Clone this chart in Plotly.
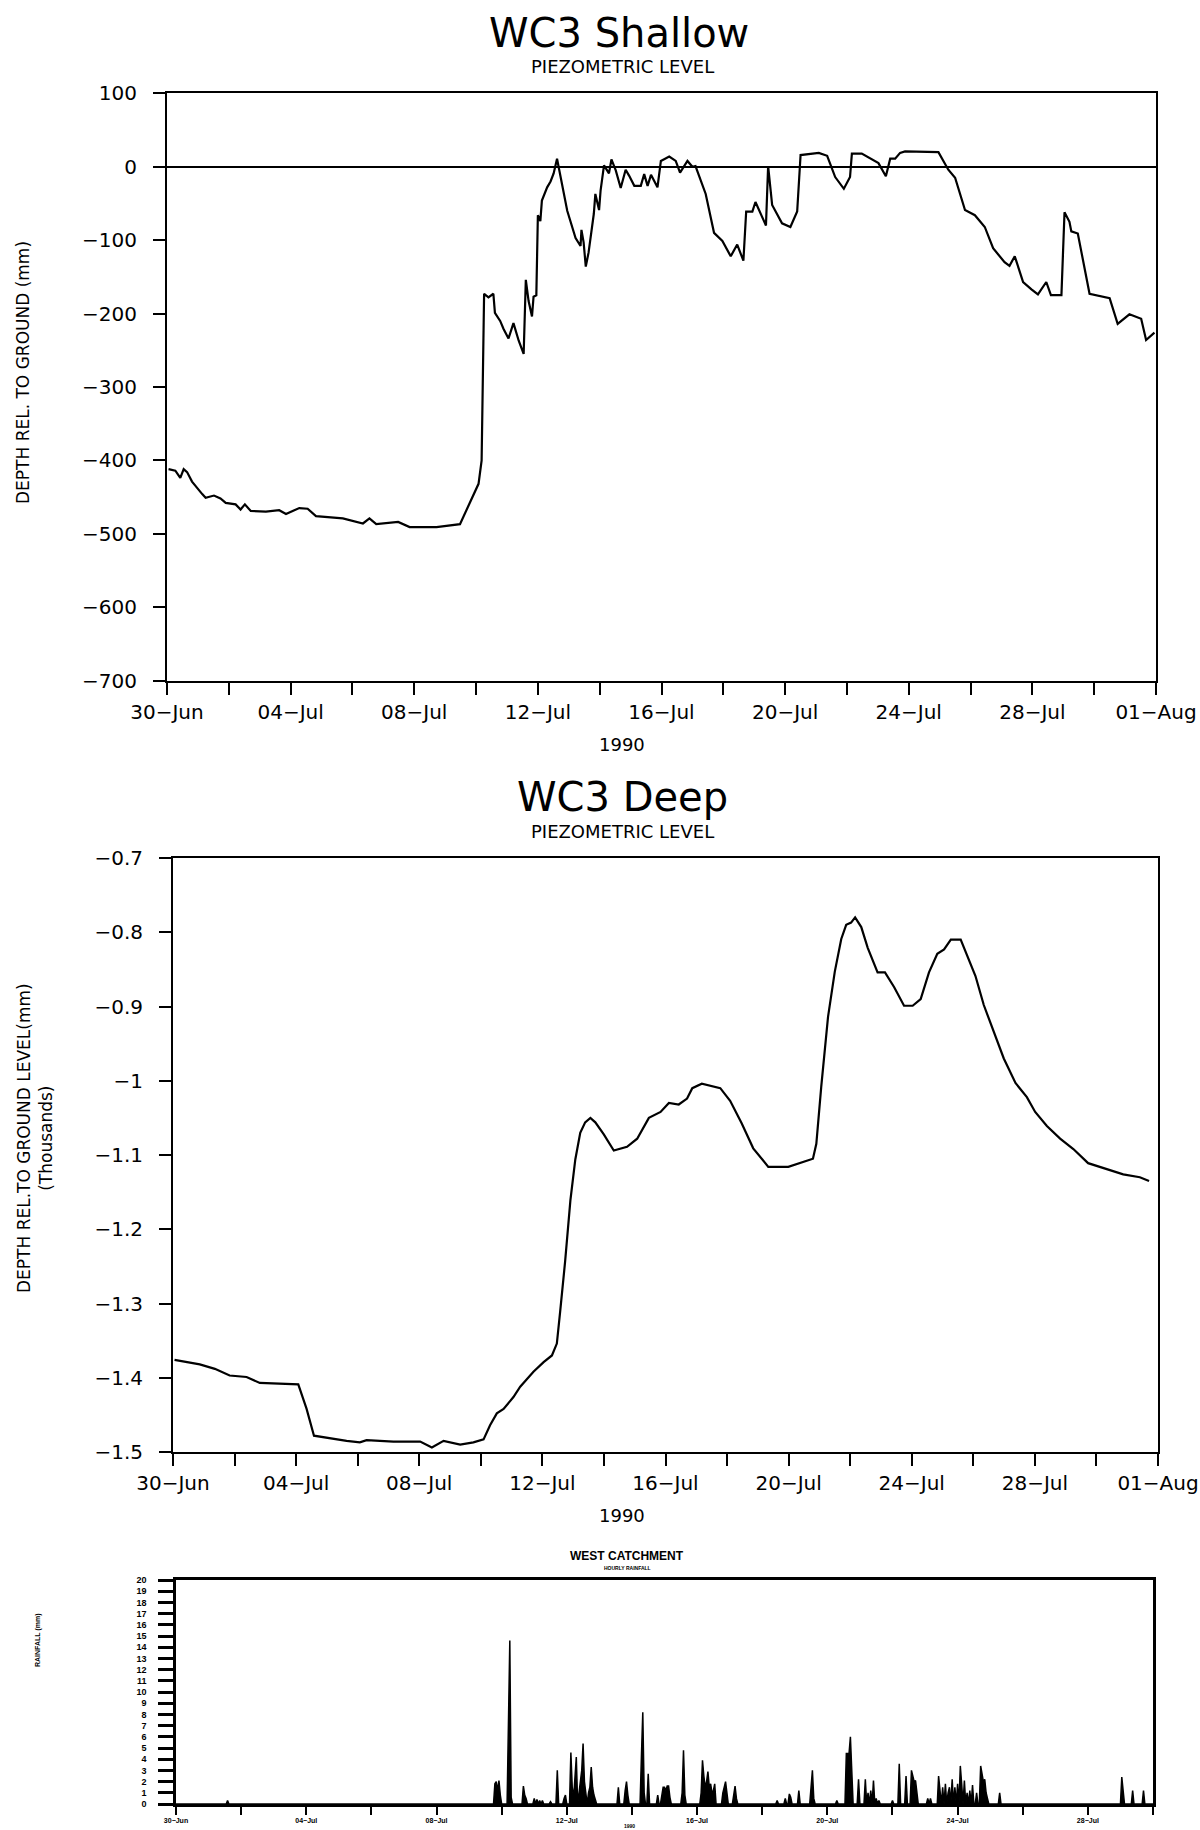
import pandas as pd
import plotly.graph_objects as go

# ---------------- data ----------------
START = pd.Timestamp("1990-06-30")

# WC3 Shallow piezometric level (days since 30-Jun-1990, mm rel. to ground)
shallow_day = [0.05, 0.27, 0.43, 0.54, 0.65, 0.81, 1.14, 1.25, 1.52, 1.73, 1.90, 2.22, 2.38, 2.52, 2.71,
               3.20, 3.63, 3.85, 4.28, 4.55, 4.82, 5.69, 6.34, 6.55, 6.77, 7.48, 7.85, 8.72, 9.48, 10.08,
               10.18, 10.22, 10.26, 10.40, 10.56, 10.61, 10.78, 10.89, 11.05, 11.21, 11.38, 11.54, 11.61,
               11.70, 11.81, 11.86, 11.95, 12.00, 12.08, 12.13, 12.30, 12.41, 12.51, 12.62, 12.73, 12.95,
               13.22, 13.38, 13.41, 13.48, 13.55, 13.64, 13.81, 13.86, 13.98, 14.03, 14.14, 14.30, 14.38,
               14.52, 14.68, 14.84, 14.95, 15.12, 15.33, 15.44, 15.55, 15.66, 15.87, 15.98, 16.25, 16.46,
               16.60, 16.84, 17.00, 17.10, 17.43, 17.70, 17.97, 18.24, 18.45, 18.65, 18.74, 18.94, 19.04,
               19.31, 19.38, 19.45, 19.58, 19.90, 20.17, 20.39, 20.50, 21.09, 21.36, 21.62, 21.90, 22.10,
               22.16, 22.48, 22.80, 23.02, 23.26, 23.40, 23.56, 23.72, 23.88, 24.96, 25.28, 25.50, 25.82,
               26.14, 26.46, 26.73, 27.10, 27.26, 27.43, 27.70, 27.97, 28.18, 28.45, 28.60, 28.94, 29.04,
               29.20, 29.26, 29.47, 29.85, 30.50, 30.76, 31.14, 31.52, 31.68, 31.95]
shallow_mm = [-412, -414, -424, -412, -416, -429, -446, -451, -448, -452, -458, -460, -467, -460, -469,
              -470, -468, -473, -465, -466, -476, -479, -486, -479, -487, -484, -491, -491, -487, -432,
              -400, -290, -173, -178, -173, -199, -210, -221, -234, -213, -237, -255, -154,
              -183, -204, -177, -175, -66, -74, -46, -28, -20, -9, 11, -14, -60,
              -97, -108, -86, -103, -136, -117, -64, -37, -59, -32, 2, -9, 10,
              -5, -29, -4, -12, -26, -26, -10, -26, -11, -28, 8, 14, 8,
              -8, 8, 0, 1, -37, -90, -101, -122, -106, -128, -61, -61, -48,
              -72, -80, 1, -52, -77, -82, -61, 16, 19, 15, -14, -30, -14,
              18, 18, 10, 5, -13, 11, 11, 19, 21, 20, -4, -15, -59,
              -66, -82, -111, -130, -135, -122, -157, -167, -174, -157, -175, -175, -62,
              -75, -88, -91, -173, -179, -214, -201, -207, -236, -226]

# WC3 Deep piezometric level (days since 30-Jun-1990, thousands of mm)
deep_day = [0.05, 0.87, 1.36, 1.84, 2.39, 2.82, 4.07, 4.34, 4.58, 4.99, 5.64, 6.07, 6.29, 7.16, 8.03,
            8.41, 8.79, 9.33, 9.76, 10.09, 10.30, 10.52, 10.74, 11.06, 11.28, 11.71, 12.04, 12.31, 12.47,
            12.58, 12.74, 12.91, 13.07, 13.23, 13.39, 13.56, 13.72, 13.99, 14.32, 14.75, 15.08, 15.46,
            15.84, 16.11, 16.43, 16.70, 16.87, 17.18, 17.78, 18.10, 18.47, 18.85, 19.34, 19.99, 20.42,
            20.79, 20.90, 21.06, 21.28, 21.50, 21.71, 21.87, 22.03, 22.16, 22.36, 22.57, 22.89, 23.13,
            23.43, 23.75, 24.03, 24.29, 24.56, 24.83, 25.05, 25.27, 25.59, 25.80, 26.07, 26.34, 26.67,
            26.99, 27.37, 27.74, 28.01, 28.39, 28.82, 29.25, 29.73, 30.33, 30.87, 31.41, 31.71]
deep_k = [-1.376, -1.382, -1.388, -1.397, -1.399, -1.407, -1.409, -1.442, -1.478, -1.481, -1.485, -1.487,
          -1.484, -1.486, -1.486, -1.494, -1.485, -1.490, -1.487, -1.483, -1.464, -1.448, -1.442, -1.426,
          -1.412, -1.392, -1.379, -1.370, -1.354, -1.310, -1.243, -1.161, -1.106, -1.070, -1.056, -1.050,
          -1.056, -1.072, -1.094, -1.089, -1.078, -1.050, -1.042, -1.030, -1.032, -1.024, -1.010, -1.004,
          -1.010, -1.027, -1.057, -1.091, -1.116, -1.116, -1.110, -1.105, -1.085, -1.008, -0.914, -0.853,
          -0.809, -0.790, -0.787, -0.780, -0.793, -0.821, -0.854, -0.854, -0.874, -0.899, -0.899, -0.890,
          -0.854, -0.829, -0.823, -0.810, -0.810, -0.832, -0.859, -0.898, -0.934, -0.970, -1.003, -1.022,
          -1.042, -1.061, -1.078, -1.092, -1.111, -1.119, -1.126, -1.130, -1.135]

# West catchment hourly rainfall: hour since 30-Jun 00:00 and mm (hours not listed had no rain)
rain_hour = [38, 235, 236, 237, 238, 239, 245, 246, 247, 256, 257, 258, 264, 266, 268, 270, 276, 281,
             286, 287, 291, 292, 293, 294, 295, 297, 298, 299, 300, 301, 302, 304, 305, 306, 307, 308, 309,
             326, 331, 332, 333, 343, 344, 345, 348, 355, 358, 359, 360, 361, 362, 363, 364, 373, 374, 375,
             387, 388, 389, 390, 391, 392, 393, 394, 395, 396, 397, 403, 404, 405, 406, 411, 412, 413,
             443, 449, 452, 453, 459, 468, 469, 470, 487, 494, 495, 496, 497, 498, 503, 508, 510, 512,
             514, 516, 518, 528, 533, 538, 542, 543, 544, 545, 546, 554, 556, 562, 563, 565, 567, 569,
             570, 572, 574, 576, 578, 579, 581, 583, 585, 587, 590, 593, 594, 595, 596, 597, 598, 607,
             697, 698, 705, 713]
rain_mm = [0.3, 1.8, 2.0, 1.2, 2.1, 0.8, 7.3, 14.6, 0.6, 1.6, 0.8, 0.5, 0.5, 0.4, 0.3, 0.3, 0.2, 3.0,
           0.5, 0.8, 4.6, 1.5, 0.5, 2.0, 4.2, 1.0, 2.5, 3.0, 5.4, 2.0, 1.0, 1.0, 1.5, 3.3, 1.5, 0.8, 0.3,
           1.5, 1.2, 2.0, 0.8, 4.3, 8.2, 1.0, 2.7, 0.8, 1.0, 1.5, 1.5, 1.2, 1.6, 1.6, 0.6, 1.0, 4.8, 0.8,
           1.0, 3.9, 2.5, 1.5, 2.0, 2.9, 1.5, 1.8, 1.0, 1.2, 1.8, 1.0, 1.5, 2.0, 1.0, 0.8, 1.6, 0.5,
           0.3, 0.5, 0.9, 0.6, 1.2, 1.5, 3.0, 0.5, 0.3, 4.5, 4.5, 4.5, 6.0, 2.0, 2.2, 2.2, 1.0, 1.2,
           2.1, 0.5, 0.3, 0.3, 3.6, 2.5, 3.0, 2.5, 2.0, 2.1, 0.8, 0.5, 0.5, 2.5, 1.5, 1.5, 1.8, 1.0,
           1.5, 2.2, 1.5, 1.8, 3.4, 1.8, 2.1, 1.0, 1.2, 1.7, 1.0, 3.4, 2.5, 2.0, 2.2, 1.0, 0.5, 1.0,
           2.4, 1.2, 1.2, 1.2]

# axis ticks
tick_dates = ["1990-06-30", "1990-07-02", "1990-07-04", "1990-07-06", "1990-07-08", "1990-07-10",
              "1990-07-12", "1990-07-14", "1990-07-16", "1990-07-18", "1990-07-20", "1990-07-22",
              "1990-07-24", "1990-07-26", "1990-07-28", "1990-07-30", "1990-08-01"]
tick_labels = ["30−Jun", "", "04−Jul", "", "08−Jul", "", "12−Jul", "", "16−Jul", "", "20−Jul", "",
               "24−Jul", "", "28−Jul", "", "01−Aug"]
shallow_yticks = [100, 0, -100, -200, -300, -400, -500, -600, -700]
shallow_ylabels = ["100", "0", "−100", "−200", "−300", "−400", "−500", "−600", "−700"]
deep_yticks = [-0.7, -0.8, -0.9, -1.0, -1.1, -1.2, -1.3, -1.4, -1.5]
deep_ylabels = ["−0.7", "−0.8", "−0.9", "−1", "−1.1", "−1.2", "−1.3", "−1.4", "−1.5"]
rain_yticks = list(range(0, 21))
rain_ylabels = [str(v) for v in rain_yticks]

# ---------------- build ----------------
def to_dates(days):
    return [START + pd.Timedelta(days=d) for d in days]

rain_map = dict(zip(rain_hour, rain_mm))
rain_hours_all = list(range(0, 30 * 24 + 1))
rain_x = [START + pd.Timedelta(hours=h) for h in rain_hours_all]
rain_y = [rain_map.get(h, 0.0) for h in rain_hours_all]

W, H = 1200, 1830
def px(x):
    return x / W
def py(y):
    return 1 - y / H

FONT = "DejaVu Sans"
fig = go.Figure()
fig.add_trace(go.Scatter(x=to_dates(shallow_day), y=shallow_mm, mode="lines",
                         line=dict(color="black", width=2.2), xaxis="x", yaxis="y", showlegend=False))
fig.add_trace(go.Scatter(x=to_dates(deep_day), y=deep_k, mode="lines",
                         line=dict(color="black", width=2.2), xaxis="x2", yaxis="y2", showlegend=False))
fig.add_trace(go.Scatter(x=rain_x, y=rain_y, mode="lines", fill="tozeroy", fillcolor="black",
                         line=dict(color="black", width=1.5), xaxis="x3", yaxis="y3", showlegend=False))

common_x = dict(type="date", showgrid=False, showline=True, linecolor="black", linewidth=2,
                mirror=True, ticks="outside", ticklen=12, tickwidth=2, tickcolor="black",
                zeroline=False, automargin=False)
common_y = dict(showgrid=False, showline=True, linecolor="black", linewidth=2, mirror=True,
                ticks="outside", ticklen=12, tickwidth=2, tickcolor="black", automargin=False,
                ticklabelstandoff=12)

fig.update_layout(
    width=W, height=H, margin=dict(l=0, r=0, t=0, b=0, autoexpand=False),
    paper_bgcolor="white", plot_bgcolor="white",
    font=dict(family=FONT, color="black"),
    xaxis=dict(**common_x, domain=[px(167), px(1156)], anchor="y",
               range=["1990-06-30", "1990-08-01"], tickvals=tick_dates, ticktext=tick_labels,
               tickfont=dict(size=20, family=FONT)),
    yaxis=dict(**common_y, domain=[py(680.5), py(93.4)], anchor="x", range=[-700, 100],
               tickvals=shallow_yticks, ticktext=shallow_ylabels, tickfont=dict(size=20, family=FONT),
               zeroline=True, zerolinecolor="black", zerolinewidth=2),
    xaxis2=dict(**common_x, domain=[px(173), px(1158)], anchor="y2",
                range=["1990-06-30", "1990-08-01"], tickvals=tick_dates, ticktext=tick_labels,
                tickfont=dict(size=20, family=FONT)),
    yaxis2=dict(**common_y, domain=[py(1452), py(858)], anchor="x2", range=[-1.5, -0.7],
                tickvals=deep_yticks, ticktext=deep_ylabels, tickfont=dict(size=20, family=FONT),
                zeroline=False),
    xaxis3=dict(type="date", showgrid=False, showline=True, linecolor="black", linewidth=2.5,
                mirror=True, ticks="outside", ticklen=8, tickwidth=2, tickcolor="black",
                zeroline=False, automargin=False, domain=[px(176), px(1153)], anchor="y3",
                range=["1990-06-30", "1990-07-30"], tickvals=tick_dates[:16],
                ticktext=tick_labels[:15] + [""],
                tickfont=dict(size=7, family="Liberation Sans", weight="bold")),
    yaxis3=dict(showgrid=False, showline=True, linecolor="black", linewidth=2.5, mirror=True,
                ticks="outside", ticklen=15, tickwidth=2.5, tickcolor="black", zeroline=False,
                automargin=False, ticklabelstandoff=10,
                domain=[py(1804), py(1580)], anchor="x3", range=[0, 20],
                tickvals=rain_yticks, ticktext=rain_ylabels,
                tickfont=dict(size=9, family="Liberation Sans", weight="bold")),
)

ann = [
    dict(text="WC3 Shallow", x=px(619), y=py(33), size=40),
    dict(text="PIEZOMETRIC LEVEL", x=px(622), y=py(67), size=18),
    dict(text="1990", x=px(622), y=py(744), size=18),
    dict(text="DEPTH REL. TO GROUND (mm)", x=px(23), y=py(373), size=17, angle=-90),
    dict(text="WC3 Deep", x=px(622), y=py(797), size=40),
    dict(text="PIEZOMETRIC LEVEL", x=px(622), y=py(831), size=18),
    dict(text="1990", x=px(622), y=py(1515), size=18),
    dict(text="DEPTH REL.TO GROUND LEVEL(mm)<br>(Thousands)", x=px(35), y=py(1138), size=17, angle=-90),
    dict(text="<b>WEST CATCHMENT</b>", x=px(627), y=py(1556), size=12, fam="Liberation Sans"),
    dict(text="<b>HOURLY RAINFALL</b>", x=px(627), y=py(1568), size=5, fam="Liberation Sans"),
    dict(text="<b>RAINFALL (mm)</b>", x=px(38), y=py(1640), size=7, angle=-90, fam="Liberation Sans"),
    dict(text="<b>1990</b>", x=px(629), y=py(1826), size=5, fam="Liberation Sans"),
]
for a in ann:
    fig.add_annotation(text=a["text"], x=a["x"], y=a["y"], xref="paper", yref="paper",
                       showarrow=False, xanchor="center", yanchor="middle",
                       textangle=a.get("angle", 0),
                       font=dict(size=a["size"], family=a.get("fam", FONT), color="black"))

fig.write_html("out.html")
